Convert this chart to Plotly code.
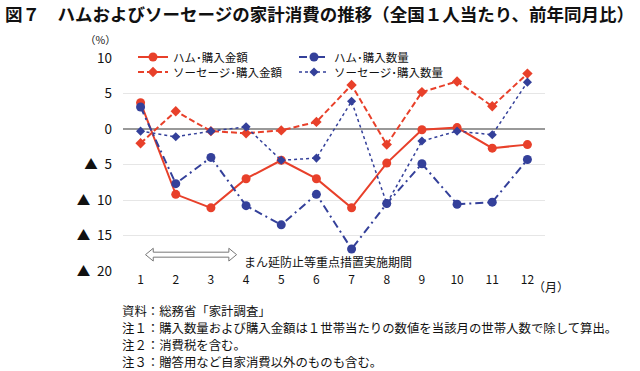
import plotly.graph_objects as go

months = [1, 2, 3, 4, 5, 6, 7, 8, 9, 10, 11, 12]
month_labels = ["1", "2", "3", "4", "5", "6", "7", "8", "9", "10", "11", "12"]

ham_amount = [3.7, -9.2, -11.1, -7.0, -4.4, -7.0, -11.1, -4.8, -0.1, 0.2, -2.7, -2.2]
ham_quantity = [3.1, -7.7, -4.0, -10.8, -13.5, -9.2, -16.9, -10.5, -4.9, -10.6, -10.3, -4.3]
sausage_amount = [-2.0, 2.5, -0.3, -0.6, -0.2, 1.0, 6.2, -2.2, 5.2, 6.7, 3.2, 7.8]
sausage_quantity = [-0.3, -1.1, -0.3, 0.3, -4.4, -4.1, 3.9, -10.5, -1.7, -0.3, -0.8, 6.6]

y_tickvals = [10, 5, 0, -5, -10, -15, -20]
y_ticktext = ["10", "5", "0", "▲\u20025", "▲\u200210", "▲\u200215", "▲\u200220"]

names = ["ハム･購入金額", "ハム･購入数量", "ソーセージ･購入金額", "ソーセージ･購入数量"]

title_text = "図７　ハムおよびソーセージの家計消費の推移（全国１人当たり、前年同月比）"
period_text = "まん延防止等重点措置実施期間"
notes = [
    "資料：総務省「家計調査」",
    "注１：購入数量および購入金額は１世帯当たりの数値を当該月の世帯人数で除して算出。",
    "注２：消費税を含む。",
    "注３：贈答用など自家消費以外のものも含む。",
]

RED = "#E8402A"
BLUE = "#34409A"
FONT = "Noto Sans CJK JP"

fig = go.Figure()
fig.add_trace(go.Scatter(x=months, y=ham_amount, name=names[0], mode="lines+markers",
                         legend="legend",
                         line=dict(color=RED, width=2, dash="solid"),
                         marker=dict(symbol="circle", size=9, color=RED)))
fig.add_trace(go.Scatter(x=months, y=ham_quantity, name=names[1], mode="lines+markers",
                         legend="legend",
                         line=dict(color=BLUE, width=2, dash="8px,4px,2px,4px"),
                         marker=dict(symbol="circle", size=9, color=BLUE)))
fig.add_trace(go.Scatter(x=months, y=sausage_amount, name=names[2], mode="lines+markers",
                         legend="legend2",
                         line=dict(color=RED, width=2, dash="6px,3px"),
                         marker=dict(symbol="diamond", size=8, color=RED)))
fig.add_trace(go.Scatter(x=months, y=sausage_quantity, name=names[3], mode="lines+markers",
                         legend="legend2",
                         line=dict(color=BLUE, width=1.5, dash="dot"),
                         marker=dict(symbol="diamond", size=7, color=BLUE)))

# hollow double arrow for the period
x0, x1, yc = 1.14, 3.73, -17.7
hh, sh, hl = 0.9, 0.35, 0.22
path = (f"M {x0},{yc} L {x0+hl},{yc+hh} L {x0+hl},{yc+sh} L {x1-hl},{yc+sh} "
        f"L {x1-hl},{yc+hh} L {x1},{yc} L {x1-hl},{yc-hh} L {x1-hl},{yc-sh} "
        f"L {x0+hl},{yc-sh} L {x0+hl},{yc-hh} Z")
fig.add_shape(type="path", path=path, xref="x", yref="y",
              line=dict(color="#777777", width=1), fillcolor="white")

L, R, T, B = 123, 95, 58, 100
W, H = 640, 371
pw, ph = W - L - R, H - T - B


def px2paper(px, py):
    return (px - L) / pw, (H - B - py) / ph


annotations = [
    dict(text=period_text, x=3.88, y=-18.6, xref="x", yref="y", xanchor="left",
         yanchor="middle", showarrow=False, font=dict(size=12, color="#111111")),
]
ax, ay = px2paper(100, 40)
annotations.append(dict(text="（%）", x=ax, y=ay, xref="paper", yref="paper",
                        xanchor="center", yanchor="middle", showarrow=False,
                        font=dict(size=10.5, color="#111111")))
ax, ay = px2paper(551, 286)
annotations.append(dict(text="（月）", x=ax, y=ay, xref="paper", yref="paper",
                        xanchor="center", yanchor="middle", showarrow=False,
                        font=dict(size=12, color="#111111")))

note_y = [311, 328, 345, 362]
for n, ny in zip(notes, note_y):
    ax, ay = px2paper(120, ny)
    annotations.append(dict(text=n, x=ax, y=ay, xref="paper", yref="paper",
                            xanchor="left", yanchor="middle", showarrow=False,
                            font=dict(size=12.4, color="#111111")))

ax, ay = px2paper(3, 14)
annotations.append(dict(text="<b>" + title_text + "</b>", x=ax, y=ay,
                        xref="paper", yref="paper", xanchor="left", yanchor="middle",
                        showarrow=False, font=dict(size=17.5, color="#111111")))

lx, ly1 = px2paper(133, 57)
_, ly2 = px2paper(133, 72)
legend_common = dict(orientation="h", xanchor="left", yanchor="middle",
                     entrywidth=116, itemwidth=30, font=dict(size=11.5),
                     bgcolor="rgba(0,0,0,0)")

fig.update_layout(
    width=W, height=H,
    margin=dict(l=L, r=R, t=T, b=B),
    paper_bgcolor="white", plot_bgcolor="white",
    font=dict(family=FONT, size=12, color="#111111"),
    showlegend=True,
    legend=dict(x=lx, y=ly1, **legend_common),
    legend2=dict(x=lx, y=ly2, **legend_common),
    annotations=annotations,
    xaxis=dict(range=[0.5, 12.5], tickvals=months, ticktext=month_labels,
               showgrid=False, zeroline=False, showline=False, ticks="",
               tickfont=dict(size=12)),
    yaxis=dict(range=[-20, 10], tickvals=y_tickvals, ticktext=y_ticktext,
               showgrid=True, gridcolor="#E6E6E6", gridwidth=1,
               zeroline=True, zerolinecolor="#999999", zerolinewidth=2,
               showline=False, ticks="", ticklabelstandoff=10,
               tickfont=dict(size=13.5)),
)

fig.write_html("out.html", config={"displayModeBar": False},
               post_script="document.body.style.margin='0';")
